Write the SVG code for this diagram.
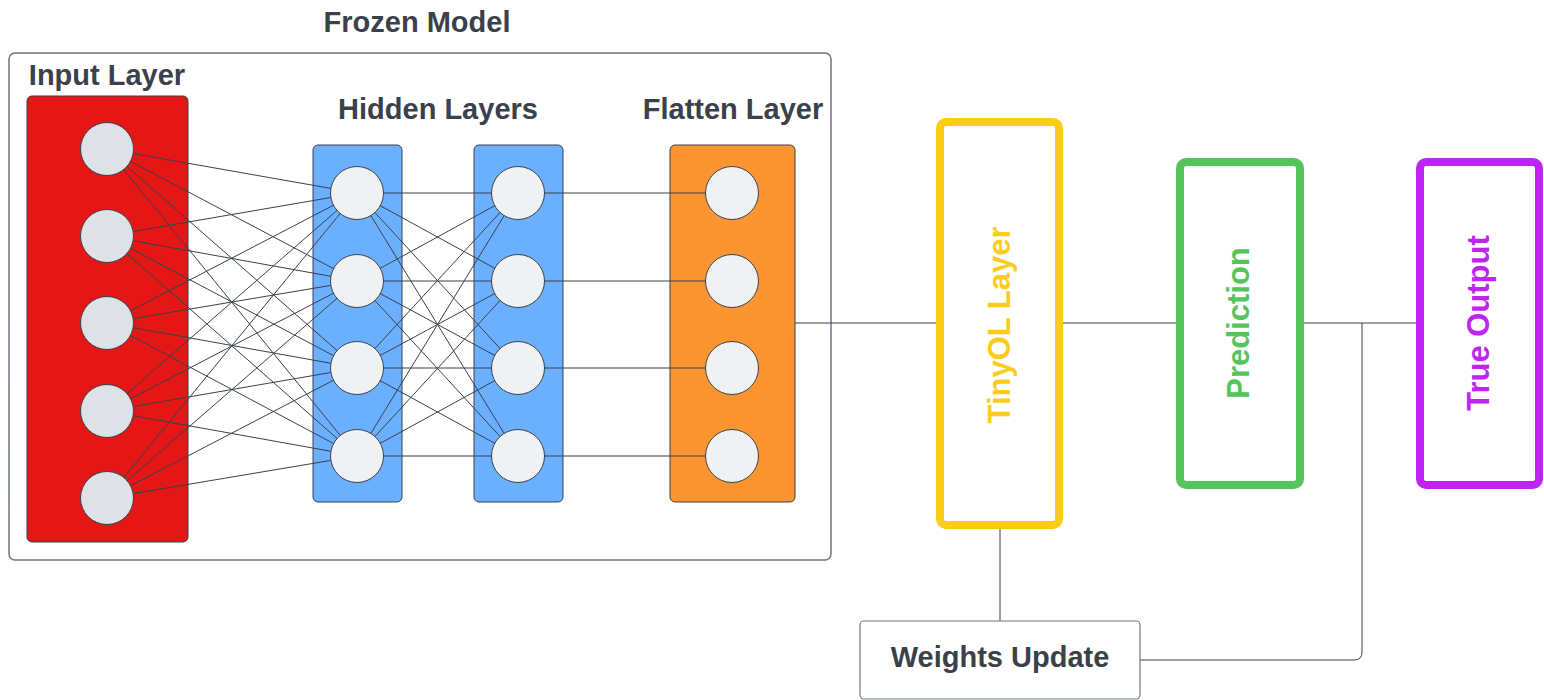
<svg xmlns="http://www.w3.org/2000/svg" width="1544" height="700" viewBox="0 0 1544 700">
  <style>
    .t { font-family: "Liberation Sans", Arial, sans-serif; font-weight: bold; fill: #3a414a; font-size: 29px; text-anchor: middle; }
    .lyr { stroke: #3a414a; stroke-width: 1; }
    .nin { fill: #dee1e5; stroke: #3a414a; stroke-width: 1; }
    .nd { fill: #f0f1f3; stroke: #3a414a; stroke-width: 1; }
    .w { stroke: #3a414a; stroke-width: 1; fill: none; }
    .vt { font-family: "Liberation Sans", Arial, sans-serif; font-weight: bold; font-size: 31px; text-anchor: middle; dominant-baseline: central; }
  </style>
  <rect width="1544" height="700" fill="#ffffff"/>

  <g id="frozen-model">
    <rect x="9" y="53" width="822" height="507" rx="6" fill="#ffffff" stroke="#6f7680" stroke-width="1.5"/>
    <text class="t" x="417" y="32">Frozen Model</text>
  </g>

  <g id="input-layer">
    <rect class="lyr" x="27" y="96" width="161" height="446" rx="5" fill="#e51616"/>
    <text class="t" x="107" y="85">Input Layer</text>
  </g>
  <g id="hidden-layer-1">
    <rect class="lyr" x="313" y="145" width="89" height="357" rx="5" fill="#6bafff"/>
  </g>
  <g id="hidden-layer-2">
    <rect class="lyr" x="474" y="145" width="89" height="357" rx="5" fill="#6bafff"/>
  </g>
  <text class="t" x="438" y="119">Hidden Layers</text>
  <g id="flatten-layer">
    <rect class="lyr" x="670" y="145" width="125" height="357" rx="5" fill="#fb9532"/>
    <text class="t" x="733" y="119">Flatten Layer</text>
  </g>

  <g id="weights">
    <path class="w" d="M107 149L357 193M107 149L357 281M107 149L357 368M107 149L357 456
      M107 236L357 193M107 236L357 281M107 236L357 368M107 236L357 456
      M107 323L357 193M107 323L357 281M107 323L357 368M107 323L357 456
      M107 411L357 193M107 411L357 281M107 411L357 368M107 411L357 456
      M107 498L357 193M107 498L357 281M107 498L357 368M107 498L357 456"/>
    <path class="w" d="M357 193L518 193M357 193L518 281M357 193L518 368M357 193L518 456
      M357 281L518 193M357 281L518 281M357 281L518 368M357 281L518 456
      M357 368L518 193M357 368L518 281M357 368L518 368M357 368L518 456
      M357 456L518 193M357 456L518 281M357 456L518 368M357 456L518 456"/>
    <path class="w" d="M518 193H732M518 281H732M518 368H732M518 456H732"/>
  </g>

  <g id="input-nodes">
    <circle class="nin" cx="107" cy="149" r="26.5"/>
    <circle class="nin" cx="107" cy="236" r="26.5"/>
    <circle class="nin" cx="107" cy="323" r="26.5"/>
    <circle class="nin" cx="107" cy="411" r="26.5"/>
    <circle class="nin" cx="107" cy="498" r="26.5"/>
  </g>
  <g id="hidden1-nodes">
    <circle class="nd" cx="357" cy="193" r="26.5"/>
    <circle class="nd" cx="357" cy="281" r="26.5"/>
    <circle class="nd" cx="357" cy="368" r="26.5"/>
    <circle class="nd" cx="357" cy="456" r="26.5"/>
  </g>
  <g id="hidden2-nodes">
    <circle class="nd" cx="518" cy="193" r="26.5"/>
    <circle class="nd" cx="518" cy="281" r="26.5"/>
    <circle class="nd" cx="518" cy="368" r="26.5"/>
    <circle class="nd" cx="518" cy="456" r="26.5"/>
  </g>
  <g id="flatten-nodes">
    <circle class="nd" cx="732" cy="193" r="26.5"/>
    <circle class="nd" cx="732" cy="281" r="26.5"/>
    <circle class="nd" cx="732" cy="368" r="26.5"/>
    <circle class="nd" cx="732" cy="456" r="26.5"/>
  </g>

  <g id="connectors">
    <path class="w" d="M795 323H940"/>
    <path class="w" d="M1059 323H1180"/>
    <path class="w" d="M1300 323H1420"/>
    <path class="w" d="M1362 323V652Q1362 660 1354 660H1140"/>
    <path class="w" d="M1000 525V621"/>
  </g>

  <g id="tinyol-layer">
    <rect x="940" y="122" width="119" height="403" rx="6" fill="#ffffff" stroke="#fccd16" stroke-width="8"/>
    <text class="vt" fill="#fccd16" transform="translate(999 325) rotate(-90)">TinyOL Layer</text>
  </g>
  <g id="prediction">
    <rect x="1180" y="162" width="120" height="323" rx="6" fill="#ffffff" stroke="#55c55b" stroke-width="8"/>
    <text class="vt" fill="#55c55b" transform="translate(1238 323) rotate(-90)">Prediction</text>
  </g>
  <g id="true-output">
    <rect x="1420" y="162" width="119" height="323" rx="6" fill="#ffffff" stroke="#c024f5" stroke-width="8"/>
    <text class="vt" fill="#c024f5" transform="translate(1478 323) rotate(-90)">True Output</text>
  </g>
  <g id="weights-update">
    <rect x="860" y="621" width="280" height="78" rx="4" fill="#ffffff" stroke="#6f7680" stroke-width="1.2"/>
    <text class="t" x="1000" y="667">Weights Update</text>
  </g>
</svg>
